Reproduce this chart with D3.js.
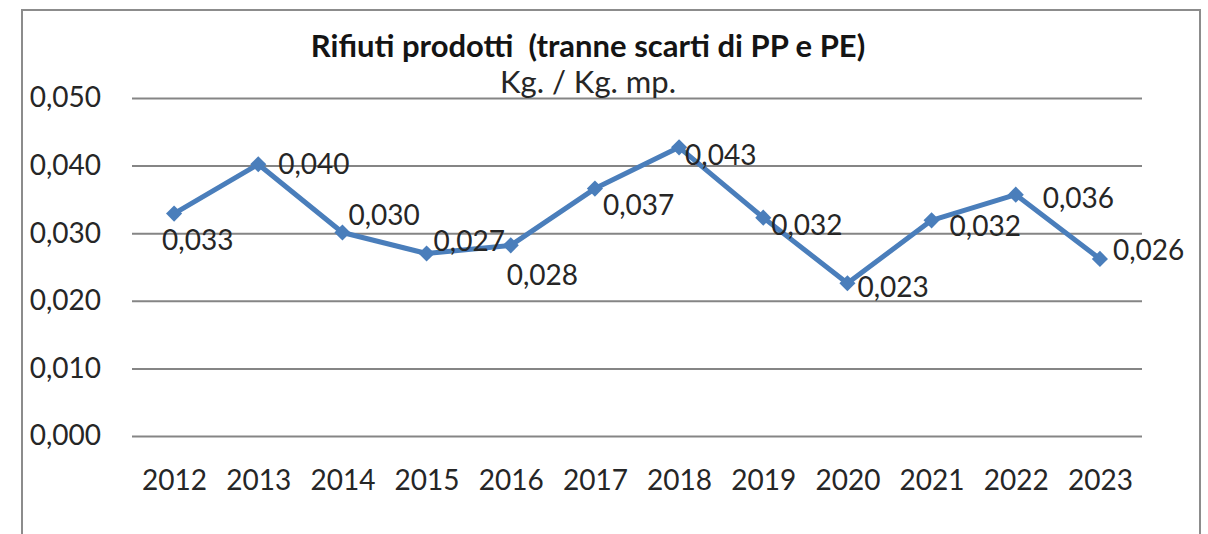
<!DOCTYPE html>
<html>
<head>
<meta charset="utf-8">
<script src="https://cdn.jsdelivr.net/npm/d3@7"></script>
<style>
  html, body { margin: 0; padding: 0; background: #fff; }
  svg { display: block; font-family: Lato, "Open Sans", sans-serif; }
</style>
</head>
<body>
<div id="chartDiv"></div>
<script>
// data
var years = ['2012','2013','2014','2015','2016','2017','2018','2019','2020','2021','2022','2023'];
var values = [0.0329, 0.0402, 0.0301, 0.0270, 0.0282, 0.0366, 0.0427, 0.0323, 0.0226, 0.0319, 0.0357, 0.0262];
var yTicks = [0, 0.01, 0.02, 0.03, 0.04, 0.05];

// where each data label sits next to its point (dx to left edge, dy to middle)
var labelOffsets = [[-12,27],[20,0],[6,-17],[7,-12],[-4,30],[8,17],[6,8],[8,8],[10,4],[18,6],[27,4],[13,-9]];

var width = 1208, height = 534;
var margin = {left: 132, right: 66, top: 98, bottom: 98};

var svg = d3.select('#chartDiv')
  .append('svg')
  .attr('width', width)
  .attr('height', height);

// outer chart frame
svg.append('rect')
  .attr('x', 22).attr('y', 10)
  .attr('width', 1178).attr('height', 540)
  .attr('fill', 'none')
  .attr('stroke', '#8c8c8c')
  .attr('stroke-width', 2);

var x = d3.scalePoint()
  .domain(years)
  .range([margin.left, width - margin.right])
  .padding(0.5);

var y = d3.scaleLinear()
  .domain([0, 0.05])
  .range([height - margin.bottom, margin.top]);

var fmt = function(v){ return d3.format('.3f')(v).replace('.', ','); };

// gridlines + y labels
var yAxis = svg.append('g')
  .attr('transform', 'translate(' + margin.left + ',0)')
  .call(d3.axisLeft(y).tickValues(yTicks).tickFormat(fmt)
        .tickSize(-(width - margin.left - margin.right)).tickPadding(31));
yAxis.select('.domain').remove();
yAxis.selectAll('.tick line').attr('stroke', '#858585').attr('stroke-width', 2);
yAxis.selectAll('.tick text')
  .attr('fill', '#262626')
  .style('font-size', '28px')
  .style('font-family', 'Lato, sans-serif');

// x labels
var xAxis = svg.append('g')
  .attr('transform', 'translate(0,' + (height - margin.bottom) + ')')
  .call(d3.axisBottom(x).tickSize(0).tickPadding(34));
xAxis.select('.domain').remove();
xAxis.selectAll('.tick text')
  .attr('fill', '#262626')
  .style('font-size', '28px')
  .style('font-family', 'Lato, sans-serif');

// title (keeps the double space)
svg.append('text')
  .attr('x', 588).attr('y', 57)
  .attr('text-anchor', 'middle')
  .attr('fill', '#141414')
  .style('font-size', '31px')
  .style('font-weight', 'bold')
  .style('white-space', 'pre')
  .text('Rifiuti prodotti  (tranne scarti di PP e PE)');

svg.append('text')
  .attr('x', 588).attr('y', 93)
  .attr('text-anchor', 'middle')
  .attr('fill', '#262626')
  .style('font-size', '31px')
  .text('Kg. / Kg. mp.');

// line
var line = d3.line()
  .x(function(d, i){ return x(years[i]); })
  .y(function(d){ return y(d); });

svg.append('path')
  .datum(values)
  .attr('d', line)
  .attr('fill', 'none')
  .attr('stroke', '#4a7ebb')
  .attr('stroke-width', 5)
  .attr('stroke-linejoin', 'round');

// diamond markers: squares turned 45 degrees
svg.selectAll('path.marker')
  .data(values)
  .enter()
  .append('path')
  .attr('class', 'marker')
  .attr('d', d3.symbol().type(d3.symbolSquare).size(130))
  .attr('transform', function(d, i){ return 'translate(' + x(years[i]) + ',' + y(d) + ') rotate(45)'; })
  .attr('fill', '#4a7ebb');

// data labels
svg.selectAll('text.dl')
  .data(values)
  .enter()
  .append('text')
  .attr('class', 'dl')
  .attr('x', function(d, i){ return x(years[i]) + labelOffsets[i][0]; })
  .attr('y', function(d, i){ return y(d) + labelOffsets[i][1]; })
  .attr('dy', '0.35em')
  .attr('fill', '#262626')
  .style('font-size', '28px')
  .text(function(d){ return fmt(d); });
</script>
</body>
</html>
